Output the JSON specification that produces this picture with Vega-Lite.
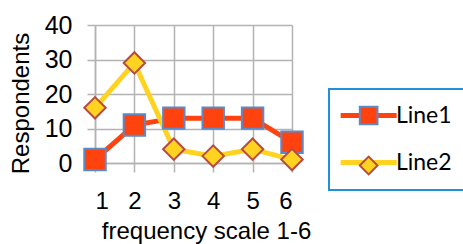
{
  "$schema": "https://vega.github.io/schema/vega-lite/v6.json",
  "width": 197,
  "height": 138,
  "autosize": {"type": "none"},
  "padding": {"left": 95, "top": 25, "right": 171, "bottom": 81},
  "background": "white",
  "config": {"view": {"stroke": null}, "font": "Liberation Sans"},
  "data": {
    "values": [
      {"x": 1, "series": "Line1", "value": 1},
      {"x": 2, "series": "Line1", "value": 11},
      {"x": 3, "series": "Line1", "value": 13},
      {"x": 4, "series": "Line1", "value": 13},
      {"x": 5, "series": "Line1", "value": 13},
      {"x": 6, "series": "Line1", "value": 6},
      {"x": 1, "series": "Line2", "value": 16},
      {"x": 2, "series": "Line2", "value": 29},
      {"x": 3, "series": "Line2", "value": 4},
      {"x": 4, "series": "Line2", "value": 2},
      {"x": 5, "series": "Line2", "value": 4},
      {"x": 6, "series": "Line2", "value": 1}
    ]
  },
  "encoding": {
    "x": {
      "field": "x", "type": "quantitative",
      "scale": {"domain": [1, 6], "nice": false, "zero": false},
      "axis": {
        "values": [1, 2, 3, 4, 5, 6], "format": "d",
        "title": "frequency scale 1-6",
        "grid": true, "gridColor": "#b3b3b3", "gridWidth": 1.5,
        "domainColor": "#b3b3b3", "domainWidth": 1.5,
        "tickColor": "#b3b3b3", "tickWidth": 1.5, "tickSize": 9,
        "labelFontSize": 24, "labelColor": "black", "labelPadding": 17,
        "titleFontSize": 24, "titleFontWeight": "normal", "titleColor": "black",
        "titleX": 111, "titleY": 75, "titleBaseline": "alphabetic", "titleAlign": "center"
      }
    },
    "y": {
      "field": "value", "type": "quantitative",
      "scale": {"domain": [0, 40], "nice": false},
      "axis": {
        "values": [0, 10, 20, 30, 40],
        "title": "Respondents",
        "grid": true, "gridColor": "#b3b3b3", "gridWidth": 1.5,
        "domainColor": "#b3b3b3", "domainWidth": 1.5,
        "tickColor": "#b3b3b3", "tickWidth": 1.5, "tickSize": 8,
        "labelFontSize": 25, "labelColor": "black", "labelPadding": 15,
        "titleFontSize": 24, "titleFontWeight": "normal", "titleColor": "black",
        "titleAngle": -90, "titleX": -67, "titleY": 78, "titleBaseline": "alphabetic", "titleAlign": "center"
      }
    }
  },
  "layer": [
    {
      "mark": {"type": "line", "strokeWidth": 5},
      "encoding": {
        "color": {
          "field": "series", "type": "nominal",
          "scale": {"range": ["#ff420e", "#ffd320"]},
          "legend": {
            "orient": "none", "legendX": 234, "legendY": 64, "title": null,
            "symbolType": "M-3.164,0H3.164", "symbolSize": 313, "symbolStrokeWidth": 5,
            "symbolOffset": 13.15,
            "labelFont": "Lato", "labelFontSize": 23, "labelColor": "black", "labelOffset": 15.8,
            "padding": 15, "rowPadding": 23,
            "strokeColor": "#1e90dc",
            "encode": {"legend": {"update": {"strokeWidth": {"value": 2}}}}
          }
        }
      }
    },
    {
      "transform": [{"filter": "datum.value >= 0"}],
      "mark": {"type": "point", "filled": true, "opacity": 1, "strokeWidth": 2, "size": 460},
      "encoding": {
        "shape": {
          "field": "series", "type": "nominal",
          "scale": {"domain": ["Line1", "Line2"], "range": ["square", "diamond"]},
          "legend": {
            "orient": "none", "legendX": 234, "legendY": 64, "title": null,
            "symbolSize": 313, "symbolStrokeWidth": 2, "symbolOpacity": 1, "symbolOffset": 13.15,
            "labelFont": "Lato", "labelFontSize": 23, "labelOpacity": 0, "labelOffset": 15.8,
            "padding": 15, "rowPadding": 23
          }
        },
        "fill": {
          "field": "series", "type": "nominal",
          "scale": {"domain": ["Line1", "Line2"], "range": ["#ff420e", "#ffd320"]},
          "legend": {
            "orient": "none", "legendX": 234, "legendY": 64, "title": null,
            "symbolSize": 313, "symbolStrokeWidth": 2, "symbolOpacity": 1, "symbolOffset": 13.15,
            "labelFont": "Lato", "labelFontSize": 23, "labelOpacity": 0, "labelOffset": 15.8,
            "padding": 15, "rowPadding": 23
          }
        },
        "stroke": {
          "field": "series", "type": "nominal",
          "scale": {"domain": ["Line1", "Line2"], "range": ["#5b8ac8", "#b84a45"]},
          "legend": {
            "orient": "none", "legendX": 234, "legendY": 64, "title": null,
            "symbolSize": 313, "symbolStrokeWidth": 2, "symbolOpacity": 1, "symbolOffset": 13.15,
            "labelFont": "Lato", "labelFontSize": 23, "labelOpacity": 0, "labelOffset": 15.8,
            "padding": 15, "rowPadding": 23
          }
        }
      }
    }
  ]
}
